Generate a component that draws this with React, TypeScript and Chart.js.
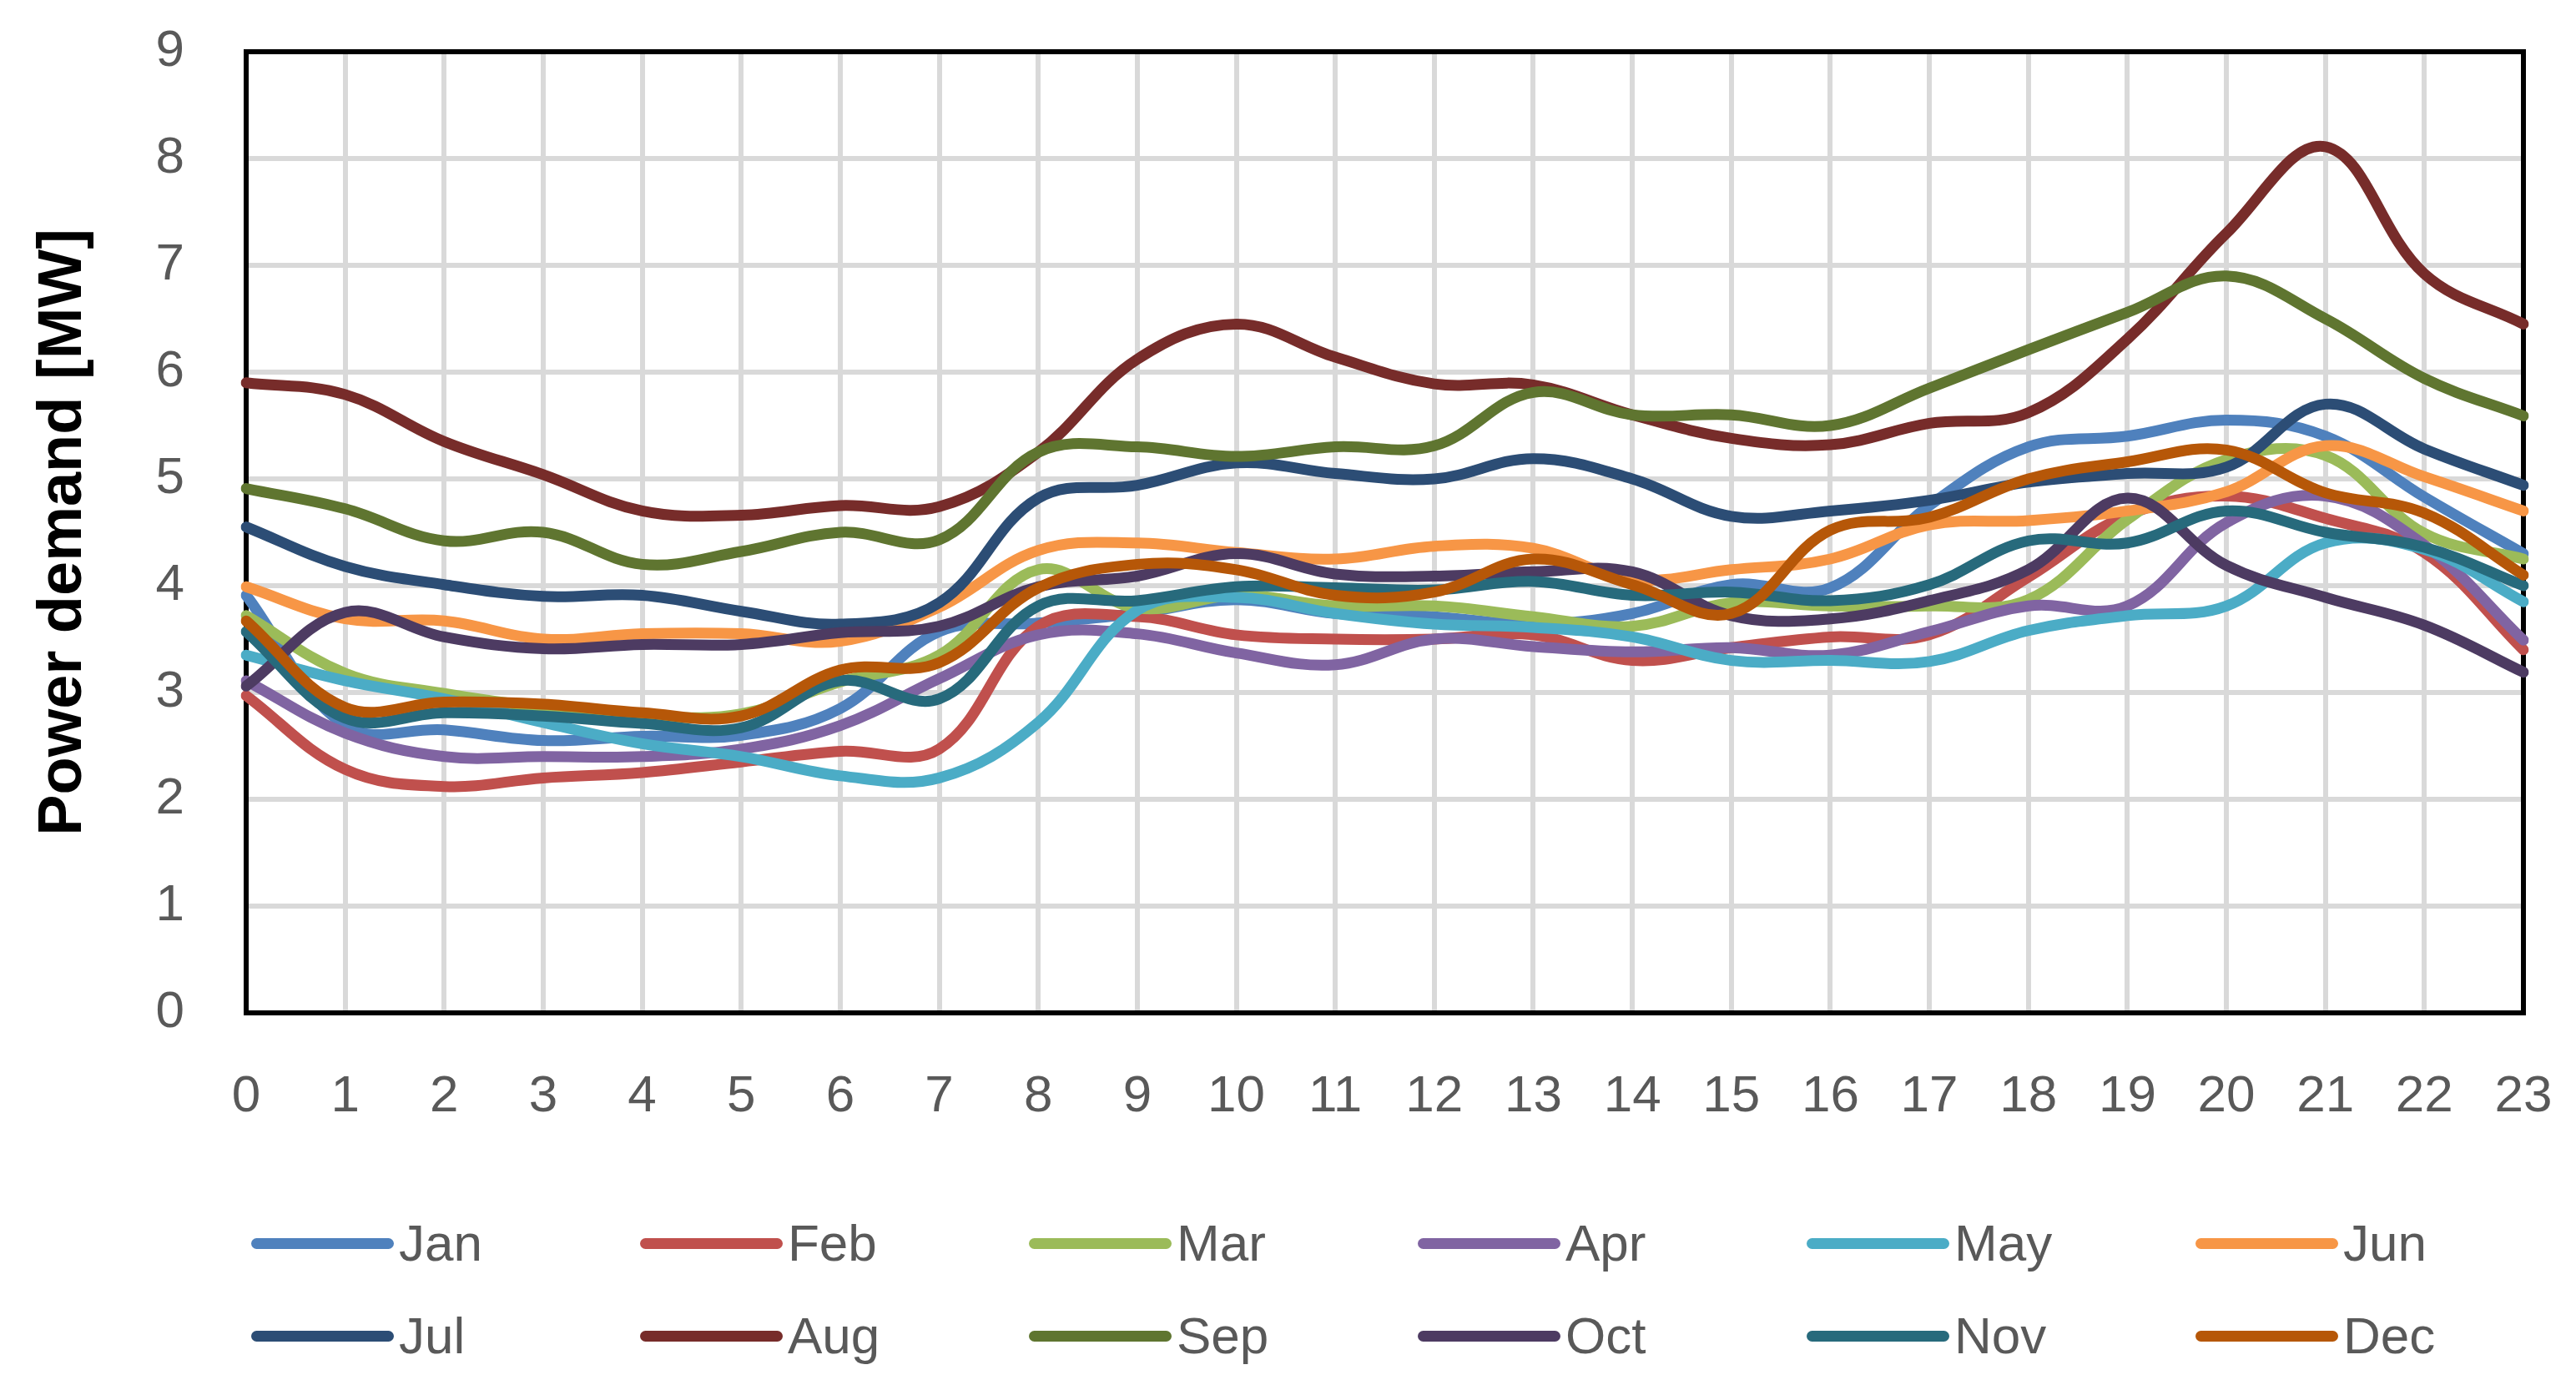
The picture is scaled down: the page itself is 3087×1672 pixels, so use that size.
import React, { useEffect, useRef } from "react";
import { Chart, registerables } from "chart.js";

Chart.register(...registerables);

const hours = ["0","1","2","3","4","5","6","7","8","9","10","11","12","13","14","15","16","17","18","19","20","21","22","23"];
const monthNames = ["Jan","Feb","Mar","Apr","May","Jun","Jul","Aug","Sep","Oct","Nov","Dec"];
const monthColors = ["#4F81BD","#C0504D","#9BBB59","#8064A2","#4BACC6","#F79646","#2C4D75","#772C2A","#5F7530","#4D3B62","#276A7C","#B65708"];

const jan = [3.91,2.69,2.65,2.55,2.59,2.60,2.85,3.57,3.65,3.74,3.87,3.74,3.71,3.64,3.74,4.01,3.98,4.75,5.30,5.40,5.55,5.40,4.83,4.30];
const feb = [2.97,2.28,2.12,2.20,2.25,2.35,2.45,2.47,3.62,3.71,3.54,3.50,3.50,3.54,3.30,3.42,3.52,3.54,4.08,4.66,4.84,4.63,4.31,3.40];
const mar = [3.72,3.18,2.99,2.86,2.78,2.80,3.10,3.35,4.15,3.79,3.91,3.81,3.81,3.71,3.62,3.84,3.81,3.81,3.87,4.62,5.18,5.22,4.49,4.25];
const apr = [3.11,2.62,2.40,2.40,2.40,2.47,2.69,3.13,3.54,3.55,3.37,3.26,3.50,3.43,3.38,3.42,3.35,3.57,3.81,3.81,4.59,4.84,4.38,3.49];
const may = [3.35,3.11,2.94,2.72,2.52,2.40,2.22,2.20,2.72,3.77,3.89,3.74,3.64,3.61,3.52,3.30,3.30,3.29,3.58,3.72,3.81,4.40,4.34,3.85];
const jun = [3.99,3.69,3.67,3.50,3.55,3.55,3.48,3.80,4.33,4.40,4.31,4.25,4.37,4.35,4.06,4.15,4.25,4.57,4.61,4.70,4.88,5.31,5.02,4.70];
const jul = [4.55,4.18,4.01,3.90,3.91,3.76,3.64,3.84,4.82,4.94,5.15,5.05,5.00,5.19,5.00,4.65,4.70,4.80,4.97,5.05,5.11,5.70,5.28,4.94];
const aug = [5.90,5.79,5.35,5.04,4.70,4.66,4.75,4.74,5.25,6.12,6.45,6.14,5.89,5.88,5.60,5.38,5.32,5.52,5.62,6.31,7.30,8.11,6.92,6.45];
const sep = [4.91,4.72,4.42,4.50,4.20,4.32,4.50,4.43,5.25,5.30,5.21,5.30,5.31,5.81,5.60,5.60,5.50,5.85,6.21,6.56,6.90,6.50,5.94,5.59];
const oct = [3.06,3.75,3.52,3.41,3.45,3.45,3.56,3.62,3.99,4.09,4.30,4.11,4.09,4.13,4.13,3.72,3.69,3.86,4.15,4.82,4.19,3.89,3.63,3.19];
const nov = [3.57,2.76,2.81,2.78,2.71,2.67,3.11,2.94,3.81,3.86,3.99,3.98,3.96,4.04,3.91,3.94,3.86,4.01,4.42,4.40,4.70,4.50,4.36,4.00];
const dec = [3.67,2.86,2.91,2.89,2.81,2.78,3.21,3.28,3.98,4.20,4.15,3.91,3.94,4.25,4.01,3.74,4.52,4.64,5.00,5.16,5.27,4.87,4.68,4.10];

const seriesValues = [jan, feb, mar, apr, may, jun, jul, aug, sep, oct, nov, dec];
const yTitle = "Power demand [MW]";

const W = 3087;
const H = 1672;

const frameBorder = {
  id: "frameBorder",
  beforeDatasetsDraw(chart: any) {
    const { ctx, chartArea } = chart;
    ctx.save();
    ctx.strokeStyle = "#000000";
    ctx.lineWidth = 6;
    ctx.strokeRect(chartArea.left, chartArea.top, chartArea.right - chartArea.left, chartArea.bottom - chartArea.top);
    ctx.restore();
  },
};

export default function App() {
  const canvasRef = useRef<HTMLCanvasElement | null>(null);

  useEffect(() => {
    if (!canvasRef.current) return;
    const datasets = seriesValues.map((vals, i) => ({
      label: monthNames[i],
      data: vals,
      borderColor: monthColors[i],
      backgroundColor: monthColors[i],
      borderWidth: 13,
      borderCapStyle: "round" as const,
      borderJoinStyle: "round" as const,
      pointRadius: 0,
      pointHoverRadius: 0,
      tension: 0.38,
      fill: false,
      order: 12 - i,
    }));
    const chart = new Chart(canvasRef.current, {
      type: "line",
      data: { labels: hours, datasets },
      plugins: [frameBorder],
      options: {
        animation: false,
        responsive: false,
        events: [],
        layout: { padding: { top: 62, right: 63, bottom: H - 1214 - 150, left: 0 } },
        plugins: {
          legend: { display: false },
          tooltip: { enabled: false },
        },
        scales: {
          x: {
            type: "category",
            offset: false,
            afterFit: (s: any) => {
              s.height = 150;
              s.paddingLeft = 0;
              s.paddingRight = 0;
            },
            grid: { color: "#D9D9D9", lineWidth: 6, drawTicks: false },
            border: { display: false },
            ticks: {
              color: "#595959",
              font: { family: "Liberation Sans", size: 62 },
              padding: 64,
              maxRotation: 0,
              autoSkip: false,
            },
          },
          y: {
            min: 0,
            max: 9,
            afterFit: (s: any) => {
              s.width = 295;
              s.paddingTop = 0;
              s.paddingBottom = 0;
            },
            grid: { color: "#D9D9D9", lineWidth: 6, drawTicks: false },
            border: { display: false },
            ticks: {
              stepSize: 1,
              color: "#595959",
              font: { family: "Liberation Sans", size: 62 },
              padding: 74,
            },
            title: {
              display: true,
              text: yTitle,
              color: "#000000",
              font: { family: "Liberation Sans", size: 74, weight: "bold" },
              padding: { top: 32, bottom: 0 },
            },
          },
        },
      },
    });
    return () => chart.destroy();
  }, []);

  return (
    <div style={{ position: "absolute", left: 0, top: 0, width: W, height: H, background: "#ffffff", overflow: "hidden" }}>
      <canvas ref={canvasRef} width={W} height={H} style={{ position: "absolute", left: 0, top: 0, width: W, height: H }} />
      {monthNames.map((name, i) => {
        const col = i % 6;
        const row = Math.floor(i / 6);
        const left = 301 + col * 466;
        const cy = 1490 + row * 111;
        return (
          <div key={name} style={{ position: "absolute", left, top: cy - 40, height: 80, display: "flex", alignItems: "center", whiteSpace: "nowrap" }}>
            <div style={{ width: 171, height: 13, borderRadius: 6.5, background: monthColors[i] }} />
            <span style={{ marginLeft: 6, fontFamily: "Liberation Sans", fontSize: 62, lineHeight: 1, color: "#595959" }}>{name}</span>
          </div>
        );
      })}
    </div>
  );
}
